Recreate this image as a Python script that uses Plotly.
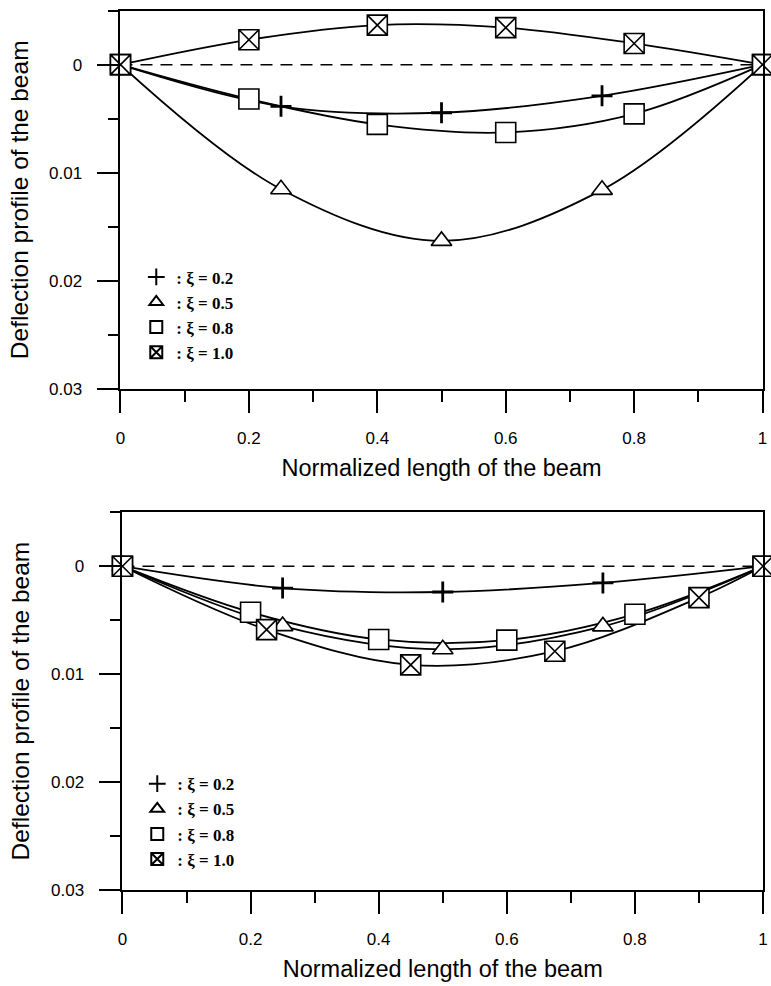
import plotly.graph_objects as go

# ---- data: beam deflection profiles (downward deflection positive) ----
labels = ["ξ = 0.2", "ξ = 0.5", "ξ = 0.8", "ξ = 1.0"]

# upper panel
top_x_02 = [0.0, 0.25, 0.5, 0.75, 1.0]
top_y_02 = [0.0, 0.00385, 0.00445, 0.00288, 0.0]
top_x_05 = [0.0, 0.25, 0.5, 0.75, 1.0]
top_y_05 = [0.0, 0.01152, 0.01630, 0.01158, 0.0]
top_x_08 = [0.0, 0.2, 0.4, 0.6, 0.8, 1.0]
top_y_08 = [0.0, 0.00318, 0.00552, 0.00627, 0.00455, 0.0]
top_x_10 = [0.0, 0.2, 0.4, 0.6, 0.8, 1.0]
top_y_10 = [0.0, -0.0023, -0.00366, -0.00342, -0.00196, 0.0]

# lower panel
bot_x_02 = [0.0, 0.25, 0.5, 0.75, 1.0]
bot_y_02 = [0.0, 0.00203, 0.00239, 0.00155, 0.0]
bot_x_05 = [0.0, 0.25, 0.5, 0.75, 1.0]
bot_y_05 = [0.0, 0.00555, 0.0077, 0.00558, 0.0]
bot_x_08 = [0.0, 0.2, 0.4, 0.6, 0.8, 1.0]
bot_y_08 = [0.0, 0.00427, 0.00679, 0.00685, 0.00445, 0.0]
bot_x_10 = [0.0, 0.225, 0.45, 0.675, 0.9, 1.0]
bot_y_10 = [0.0, 0.00588, 0.00915, 0.00788, 0.00291, 0.0]

ref_x = [0.0, 1.0]
ref_y = [0.0, 0.0]

x_ticks = [0, 0.2, 0.4, 0.6, 0.8, 1]
x_ticktext = ["0", "0.2", "0.4", "0.6", "0.8", "1"]
y_ticks = [0, 0.01, 0.02, 0.03]
y_ticktext = ["0", "0.01", "0.02", "0.03"]

# ---- styling ----
W, H = 771, 986
INK = "black"
TICK_FONT = dict(family="Arial, Liberation Sans, sans-serif", size=17, color=INK)
XTITLE_FONT = dict(family="Arial, Liberation Sans, sans-serif", size=23.5, color=INK)
YTITLE_FONT = dict(family="Arial, Liberation Sans, sans-serif", size=24.5, color=INK)
LEG_FONT = dict(family="Times New Roman, Liberation Serif, serif", size=17, color=INK)

symbols = ["cross-thin", "triangle-up", "square", "square-x"]
sizes = [15, 18, 20, 20]

fig = go.Figure()


def add_panel(series, xa, ya, legend_id):
    # zero reference line
    fig.add_trace(go.Scatter(
        x=ref_x, y=ref_y, mode="lines", xaxis=xa, yaxis=ya,
        line=dict(color=INK, width=1.5, dash="12px,8px"),
        showlegend=False, hoverinfo="skip", cliponaxis=False))
    # smooth curves
    for xs, ys in series:
        fig.add_trace(go.Scatter(
            x=xs, y=ys, mode="lines", xaxis=xa, yaxis=ya,
            line=dict(color=INK, width=1.8, shape="spline", smoothing=1.0),
            showlegend=False, hoverinfo="skip", cliponaxis=False))
    # markers on top
    for (xs, ys), lab, sym, sz in zip(series, labels, symbols, sizes):
        thin = sym.startswith("cross")
        fig.add_trace(go.Scatter(
            x=xs, y=ys, mode="markers", xaxis=xa, yaxis=ya,
            name="<b>: " + lab + "</b>", legend=legend_id,
            marker=dict(symbol=sym, size=sz, color=INK if thin else "white",
                        line=dict(color=INK, width=2.8 if thin else 1.6)),
            cliponaxis=False))


add_panel([(top_x_02, top_y_02), (top_x_05, top_y_05),
           (top_x_08, top_y_08), (top_x_10, top_y_10)], "x", "y", "legend")
add_panel([(bot_x_02, bot_y_02), (bot_x_05, bot_y_05),
           (bot_x_08, bot_y_08), (bot_x_10, bot_y_10)], "x2", "y2", "legend2")


def xaxis_cfg(domain, anchor):
    return dict(
        domain=domain, anchor=anchor, range=[0, 1],
        tickvals=x_ticks, ticktext=x_ticktext, ticks="outside", ticklen=22,
        tickwidth=1.6, tickcolor=INK, ticklabelstandoff=11,
        ticklabeloverflow="allow",
        minor=dict(dtick=0.1, tick0=0, ticks="outside", ticklen=11,
                   tickwidth=1.6, tickcolor=INK, showgrid=False),
        showline=True, linecolor=INK, linewidth=1.8, mirror=True,
        showgrid=False, zeroline=False, tickfont=TICK_FONT,
        title=dict(text="Normalized length of the beam", font=XTITLE_FONT, standoff=12),
    )


def yaxis_cfg(domain, anchor):
    return dict(
        domain=domain, anchor=anchor, range=[0.03, -0.005],
        tickvals=y_ticks, ticktext=y_ticktext, ticks="outside", ticklen=22,
        tickwidth=1.6, tickcolor=INK, ticklabelstandoff=11,
        ticklabeloverflow="allow",
        minor=dict(dtick=0.005, tick0=0, ticks="outside", ticklen=11,
                   tickwidth=1.6, tickcolor=INK, showgrid=False),
        showline=True, linecolor=INK, linewidth=1.8, mirror=True,
        showgrid=False, zeroline=False, tickfont=TICK_FONT,
        title=dict(text="Deflection profile of the beam", font=YTITLE_FONT, standoff=14),
    )


x_dom_top = [117 / W, 767.5 / W]
x_dom_bot = [119 / W, 768 / W]
y_dom_top = [1 - 393 / H, 1 - 10.7 / H]
y_dom_bot = [1 - 899 / H, 1 - 517.5 / H]

legend_common = dict(
    font=LEG_FONT, bgcolor="rgba(0,0,0,0)", borderwidth=0,
    itemsizing="constant", itemwidth=30, tracegroupgap=0,
    xanchor="left", yanchor="top", xref="paper", yref="paper",
)

fig.update_layout(
    width=W, height=H,
    margin=dict(l=0, r=0, t=0, b=0),
    paper_bgcolor="white", plot_bgcolor="white",
    showlegend=True,
    xaxis=xaxis_cfg(x_dom_top, "y"),
    yaxis=yaxis_cfg(y_dom_top, "x"),
    xaxis2=xaxis_cfg(x_dom_bot, "y2"),
    yaxis2=yaxis_cfg(y_dom_bot, "x2"),
    legend=dict(x=133 / W, y=1 - 262 / H, **legend_common),
    legend2=dict(x=134 / W, y=1 - 774 / H, **legend_common),
)

fig.write_html("out.html")
